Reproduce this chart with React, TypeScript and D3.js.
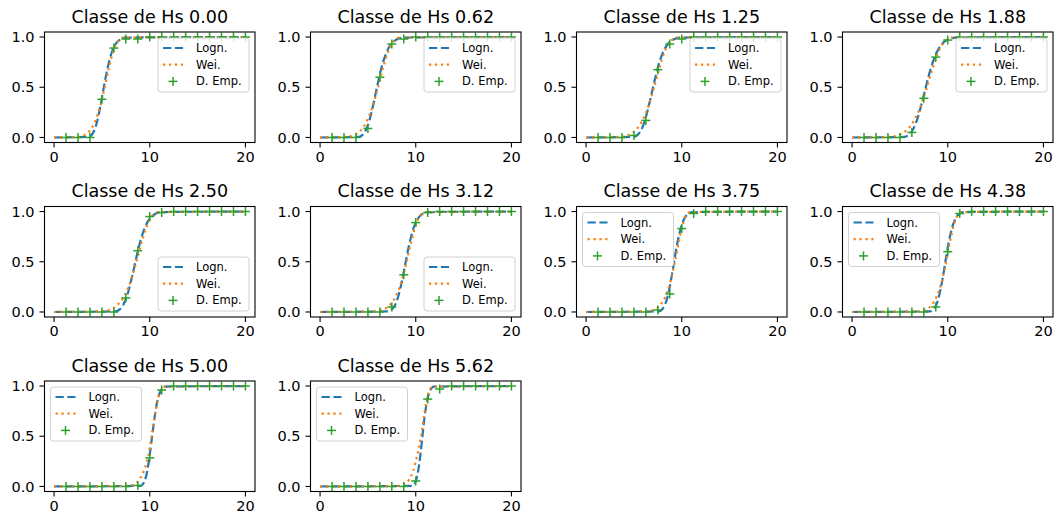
import React from "react";
import * as d3 from "d3";

// ---- data ----
const hsClasses = ["0.00", "0.62", "1.25", "1.88", "2.50", "3.12", "3.75", "4.38", "5.00", "5.62"];

const empiricalX = [1.25, 2.5, 3.75, 5, 6.25, 7.5, 8.75, 10, 11.25, 12.5, 13.75, 15, 16.25, 17.5, 18.75, 20];

const empiricalY = [
  [0, 0, 0, 0.38, 0.89, 0.98, 0.98, 1, 1, 1, 1, 1, 1, 1, 1, 1],
  [0, 0, 0, 0.09, 0.6, 0.93, 0.98, 1, 1, 1, 1, 1, 1, 1, 1, 1],
  [0, 0, 0, 0.02, 0.17, 0.675, 0.93, 0.98, 1, 1, 1, 1, 1, 1, 1, 1],
  [0, 0, 0, 0, 0.05, 0.39, 0.8, 0.97, 1, 1, 1, 1, 1, 1, 1, 1],
  [0, 0, 0, 0, 0, 0.14, 0.61, 0.95, 0.99, 1, 1, 1, 1, 1, 1, 1],
  [0, 0, 0, 0, 0, 0.05, 0.37, 0.89, 0.99, 1, 1, 1, 1, 1, 1, 1],
  [0, 0, 0, 0, 0, 0.02, 0.18, 0.83, 0.98, 1, 1, 1, 1, 1, 1, 1],
  [0, 0, 0, 0, 0, 0, 0.05, 0.6, 0.98, 1, 1, 1, 1, 1, 1, 1],
  [0, 0, 0, 0, 0, 0, 0.01, 0.285, 0.96, 1, 1, 1, 1, 1, 1, 1],
  [0, 0, 0, 0, 0, 0, 0, 0.055, 0.87, 0.97, 1, 1, 1, 1, 1, 1],
];

// CDF levels at which the fitted curves were read
const cdfLevels = [0.006, 0.023, 0.067, 0.159, 0.309, 0.5, 0.691, 0.841, 0.933, 0.977, 0.994];

// x positions where the lognormal fit reaches each cdf level
const lognormalX = [
  [3.63, 3.9, 4.19, 4.5, 4.84, 5.2, 5.59, 6.01, 6.45, 6.94, 7.45],
  [4.09, 4.41, 4.75, 5.12, 5.52, 5.95, 6.41, 6.91, 7.45, 8.03, 8.66],
  [5.0, 5.34, 5.72, 6.12, 6.54, 7.0, 7.49, 8.01, 8.57, 9.17, 9.81],
  [5.5, 5.88, 6.29, 6.73, 7.2, 7.7, 8.24, 8.82, 9.42, 10.09, 10.79],
  [6.46, 6.83, 7.21, 7.62, 8.04, 8.5, 8.98, 9.49, 10.02, 10.59, 11.19],
  [7.15, 7.47, 7.82, 8.18, 8.56, 8.95, 9.36, 9.79, 10.24, 10.71, 11.21],
  [7.63, 7.92, 8.22, 8.54, 8.86, 9.2, 9.55, 9.92, 10.29, 10.69, 11.1],
  [8.18, 8.47, 8.78, 9.09, 9.42, 9.75, 10.1, 10.46, 10.83, 11.21, 11.61],
  [9.04, 9.28, 9.51, 9.75, 9.99, 10.25, 10.51, 10.77, 11.05, 11.33, 11.61],
  [9.63, 9.83, 10.05, 10.26, 10.48, 10.7, 10.92, 11.16, 11.4, 11.64, 11.89],
];

// x positions where the Weibull fit reaches each cdf level
const weibullX = [
  [2.57, 3.16, 3.73, 4.29, 4.81, 5.29, 5.73, 6.13, 6.5, 6.84, 7.16],
  [2.86, 3.54, 4.21, 4.87, 5.49, 6.06, 6.58, 7.06, 7.51, 7.91, 8.3],
  [3.62, 4.39, 5.12, 5.84, 6.51, 7.11, 7.67, 8.16, 8.63, 9.04, 9.44],
  [3.98, 4.83, 5.64, 6.42, 7.16, 7.82, 8.43, 8.98, 9.49, 9.95, 10.39],
  [4.96, 5.81, 6.59, 7.34, 8.01, 8.61, 9.15, 9.64, 10.08, 10.47, 10.85],
  [5.76, 6.56, 7.27, 7.93, 8.53, 9.05, 9.51, 9.92, 10.29, 10.62, 10.93],
  [6.38, 7.09, 7.74, 8.32, 8.83, 9.28, 9.68, 10.02, 10.33, 10.61, 10.87],
  [6.92, 7.65, 8.3, 8.87, 9.39, 9.83, 10.22, 10.56, 10.87, 11.13, 11.39],
  [7.9, 8.4, 8.9, 9.4, 9.85, 10.2, 10.5, 10.8, 11.05, 11.25, 11.45],
  [8.3, 8.8, 9.3, 9.75, 10.15, 10.55, 10.85, 11.1, 11.35, 11.55, 11.75],
];

const curveStart: [number, number] = [0, 0];
const curveEnd: [number, number] = [20, 1];

const legendLoc = ["ur", "ur", "ur", "ur", "lr", "lr", "ul", "ul", "ul", "ul"];
const legendLabels = ["Logn.", "Wei.", "D. Emp."];

const xTicks = [0, 10, 20];
const yTicks = [0, 0.5, 1];

// ---- layout & style ----
const W = 1061;
const H = 517;
const AX_LEFT0 = 44.5;
const COL_STEP = 266;
const AX_TOP0 = 32;
const ROW_STEP = 174.5;
const AX_W = 210.5;
const AX_H = 110.5;
const NCOL = 4;

const BLUE = "#1f77b4";
const ORANGE = "#ff7f0e";
const GREEN = "#2ca02c";
const FONT = "'DejaVu Sans', Verdana, sans-serif";

const LEG_W = 91;
const LEG_H = 54;
const LEG_PAD = 6;

function Plus({ cx, cy, size = 9 }: { cx: number; cy: number; size?: number }) {
  const h = size / 2;
  return (
    <g stroke={GREEN} strokeWidth={1.5}>
      <line x1={cx - h} y1={cy} x2={cx + h} y2={cy} />
      <line x1={cx} y1={cy - h} x2={cx} y2={cy + h} />
    </g>
  );
}

function Panel({ i }: { i: number }) {
  const col = i % NCOL;
  const row = Math.floor(i / NCOL);
  const left = AX_LEFT0 + col * COL_STEP;
  const top = AX_TOP0 + row * ROW_STEP;

  const x = d3.scaleLinear().domain([-1, 21]).range([0, AX_W]);
  const y = d3.scaleLinear().domain([-0.05, 1.05]).range([AX_H, 0]);

  const line = d3
    .line<[number, number]>()
    .x((d) => x(d[0]))
    .y((d) => y(d[1]))
    .curve(d3.curveMonotoneX);

  const lognPts: [number, number][] = [
    curveStart,
    ...lognormalX[i].map((v, j) => [v, cdfLevels[j]] as [number, number]),
    curveEnd,
  ];
  const weiPts: [number, number][] = [
    curveStart,
    ...weibullX[i].map((v, j) => [v, cdfLevels[j]] as [number, number]),
    curveEnd,
  ];

  const loc = legendLoc[i];
  const lx = loc === "ul" ? LEG_PAD : AX_W - LEG_PAD - LEG_W;
  const ly = loc === "lr" ? AX_H - LEG_PAD - LEG_H : LEG_PAD;
  const rowY = [10, 26.7, 43.4];

  return (
    <g transform={`translate(${left},${top})`}>
      <text
        x={AX_W / 2}
        y={-9.5}
        textAnchor="middle"
        fontSize={17.5}
        fontFamily={FONT}
        fill="#000"
      >
        {`Classe de Hs ${hsClasses[i]}`}
      </text>

      <path d={line(lognPts) || ""} fill="none" stroke={BLUE} strokeWidth={2.2} strokeDasharray="8.3,3.6" />
      <path d={line(weiPts) || ""} fill="none" stroke={ORANGE} strokeWidth={2.2} strokeDasharray="2.25,3.7" />
      {empiricalX.map((xv, j) => (
        <Plus key={j} cx={x(xv)} cy={y(empiricalY[i][j])} />
      ))}

      <rect x={0} y={0} width={AX_W} height={AX_H} fill="none" stroke="#000" strokeWidth={1.1} />

      {xTicks.map((t) => (
        <g key={`x${t}`} transform={`translate(${x(t)},${AX_H})`}>
          <line y1={0} y2={5} stroke="#000" strokeWidth={1.1} />
          <text y={19} textAnchor="middle" fontSize={14.5} fontFamily={FONT} fill="#000">
            {String(t)}
          </text>
        </g>
      ))}
      {yTicks.map((t) => (
        <g key={`y${t}`} transform={`translate(0,${y(t)})`}>
          <line x1={0} x2={-5} stroke="#000" strokeWidth={1.1} />
          <text x={-10} dy="0.36em" textAnchor="end" fontSize={14.5} fontFamily={FONT} fill="#000">
            {t.toFixed(1)}
          </text>
        </g>
      ))}

      <g transform={`translate(${lx},${ly})`}>
        <rect
          x={0}
          y={0}
          width={LEG_W}
          height={LEG_H}
          rx={3}
          fill="#fff"
          fillOpacity={0.8}
          stroke="#d0d0d0"
          strokeWidth={1}
        />
        <line x1={5} x2={25} y1={rowY[0]} y2={rowY[0]} stroke={BLUE} strokeWidth={2.2} strokeDasharray="8.3,3.6" />
        <line x1={5} x2={25} y1={rowY[1]} y2={rowY[1]} stroke={ORANGE} strokeWidth={2.2} strokeDasharray="2.25,3.7" />
        <Plus cx={15} cy={rowY[2]} />
        {legendLabels.map((lab, k) => (
          <text
            key={lab}
            x={38}
            y={rowY[k]}
            dy="0.35em"
            fontSize={11.5}
            fontFamily={FONT}
            fill="#000"
          >
            {lab}
          </text>
        ))}
      </g>
    </g>
  );
}

export default function App() {
  return (
    <div style={{ position: "absolute", left: 0, top: 0 }}>
      <svg width={W} height={H} viewBox={`0 0 ${W} ${H}`} style={{ display: "block", background: "#fff" }}>
        <rect width={W} height={H} fill="#fff" />
        {hsClasses.map((_, i) => (
          <Panel key={i} i={i} />
        ))}
      </svg>
    </div>
  );
}
